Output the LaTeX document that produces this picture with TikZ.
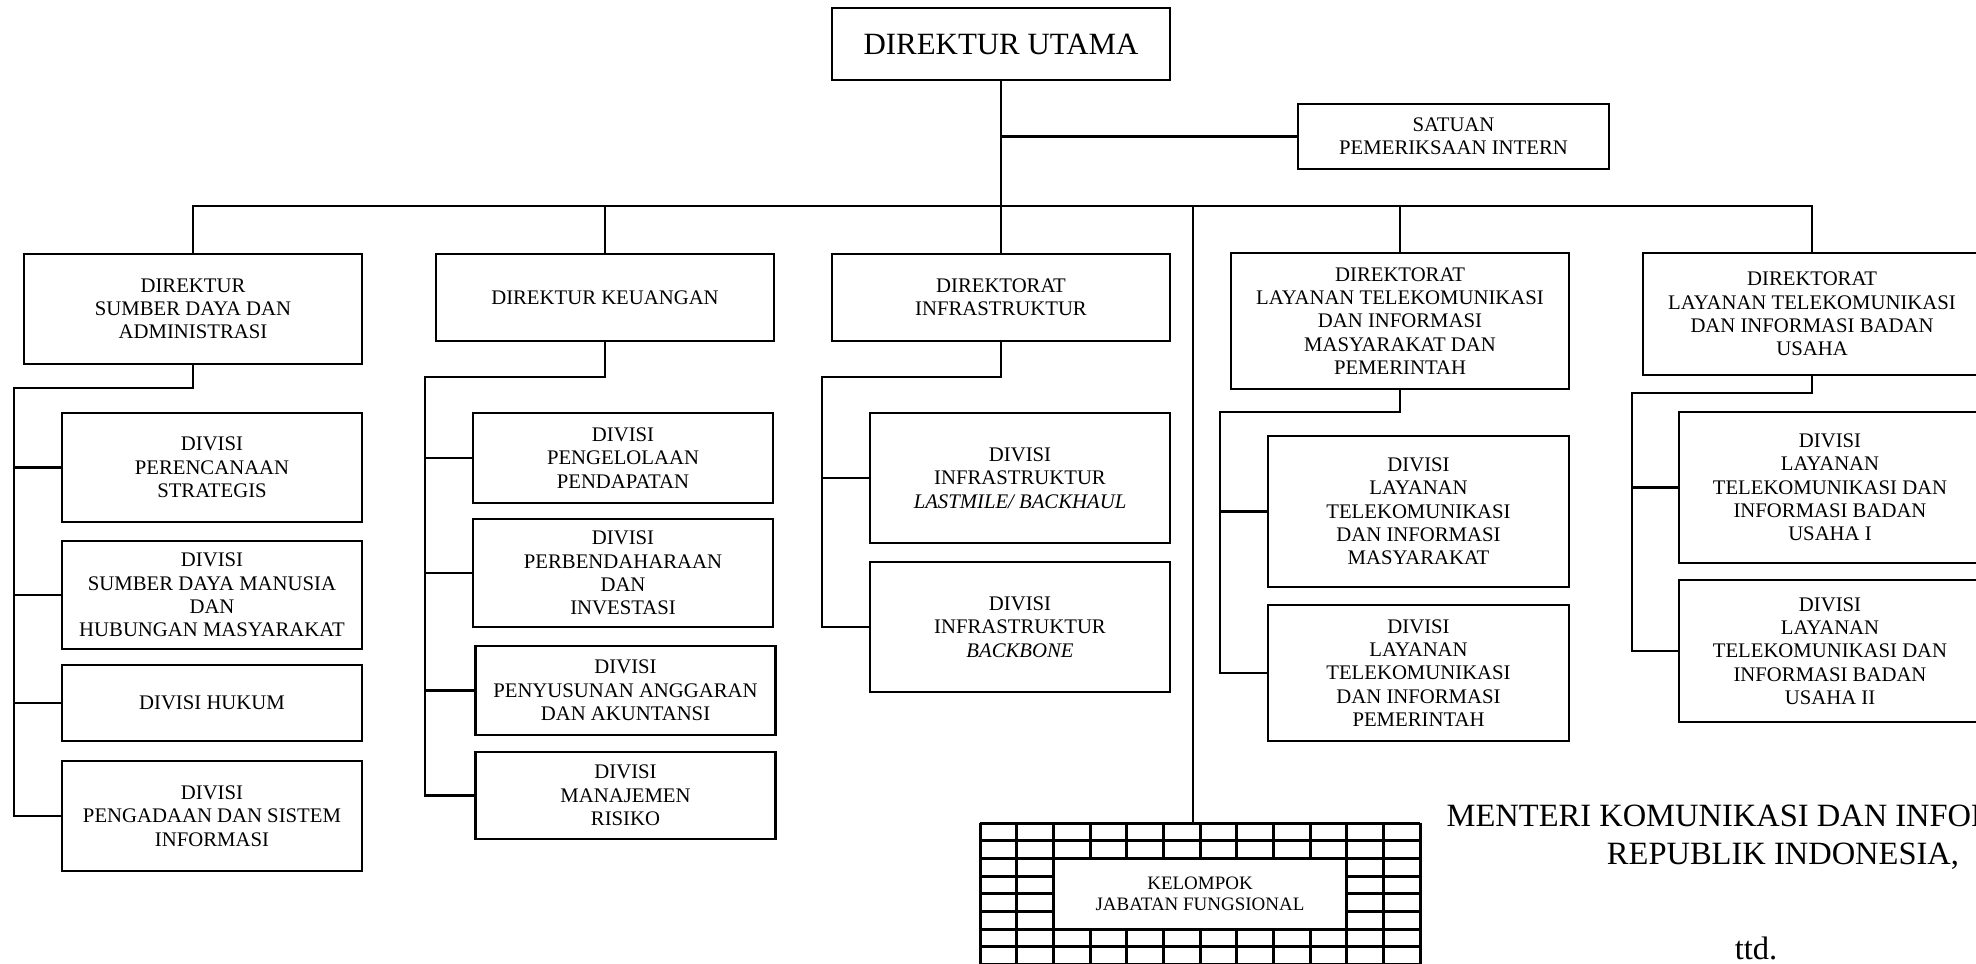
\documentclass[tikz,border=0pt]{standalone}
\usepackage{fontspec}
\setmainfont{Liberation Serif}
\tikzstyle{unit} = [rectangle, draw, line width=1.4pt, align=center, inner sep=2pt,
    font=\fontsize{11.8}{13.25}\selectfont]
\tikzstyle{division} = [unit, minimum width=6cm]
\tikzstyle{link} = [draw, line width=1.4pt]
\tikzstyle{thinlink} = [draw, line width=0.7pt]
\tikzstyle{gridline} = [draw, line width=1.7pt]

\begin{document}
\begin{tikzpicture}[x=0.02cm, y=-0.02cm]
	\useasboundingbox (0,0) rectangle (1976,963);
	\clip (0,0) rectangle (1976,963);

	% pimpinan
	\node [unit, minimum width=6.76cm, minimum height=1.44cm, font=\fontsize{17.6}{20}\selectfont] (dirut) at (1001,44) {DIREKTUR UTAMA};
	\node [unit, minimum width=6.22cm, minimum height=1.3cm] (spi) at (1453.5,136.5) {SATUAN\\PEMERIKSAAN INTERN};

	% direktorat
	\node [unit, minimum width=6.76cm, minimum height=2.2cm] (dirsda) at (193,309) {DIREKTUR\\SUMBER DAYA DAN\\ADMINISTRASI};
	\node [unit, minimum width=6.76cm, minimum height=1.74cm] (dirkeu) at (605,297.5) {DIREKTUR KEUANGAN};
	\node [unit, minimum width=6.76cm, minimum height=1.74cm] (dirinfra) at (1001,297.5) {DIREKTORAT\\INFRASTRUKTUR};
	\node [unit, minimum width=6.76cm, minimum height=2.72cm] (dirltim) at (1400,321) {DIREKTORAT\\LAYANAN TELEKOMUNIKASI\\DAN INFORMASI\\MASYARAKAT DAN\\PEMERINTAH};
	\node [unit, minimum width=6.76cm, minimum height=2.44cm] (dirltibu) at (1812,314) {DIREKTORAT\\LAYANAN TELEKOMUNIKASI\\DAN INFORMASI BADAN\\USAHA};

	% divisi sumber daya dan administrasi
	\node [division, minimum height=2.18cm] (renstra) at (212,467.5) {DIVISI\\PERENCANAAN\\STRATEGIS};
	\node [division, minimum height=2.16cm] (sdm) at (212,595) {DIVISI\\SUMBER DAYA MANUSIA\\DAN\\HUBUNGAN MASYARAKAT};
	\node [division, minimum height=1.52cm] (hukum) at (212,703) {DIVISI HUKUM};
	\node [division, minimum height=2.2cm] (pengadaan) at (212,816) {DIVISI\\PENGADAAN DAN SISTEM\\INFORMASI};

	% divisi keuangan
	\node [division, minimum height=1.8cm] (pendapatan) at (623,458) {DIVISI\\PENGELOLAAN\\PENDAPATAN};
	\node [division, minimum height=2.16cm] (perbend) at (623,573) {DIVISI\\PERBENDAHARAAN\\DAN\\INVESTASI};
	\node [division, minimum height=1.78cm] (anggaran) at (625.5,690.5) {DIVISI\\PENYUSUNAN ANGGARAN\\DAN AKUNTANSI};
	\node [division, minimum height=1.74cm] (risiko) at (625.5,795.5) {DIVISI\\MANAJEMEN\\RISIKO};

	% divisi infrastruktur
	\node [division, minimum height=2.6cm] (lastmile) at (1020,478) {DIVISI\\INFRASTRUKTUR\\\textit{LASTMILE/ BACKHAUL}};
	\node [division, minimum height=2.6cm] (backbone) at (1020,627) {DIVISI\\INFRASTRUKTUR\\\textit{BACKBONE}};

	% divisi layanan masyarakat dan pemerintah
	\node [division, minimum width=6.02cm, minimum height=3.02cm] (dlmas) at (1418.5,511.5) {DIVISI\\LAYANAN\\TELEKOMUNIKASI\\DAN INFORMASI\\MASYARAKAT};
	\node [division, minimum width=6.02cm, minimum height=2.72cm] (dlpem) at (1418.5,673) {DIVISI\\LAYANAN\\TELEKOMUNIKASI\\DAN INFORMASI\\PEMERINTAH};

	% divisi layanan badan usaha
	\node [division, minimum width=6.04cm, minimum height=3.02cm] (usahaa) at (1830,487.5) {DIVISI\\LAYANAN\\TELEKOMUNIKASI DAN\\INFORMASI BADAN\\USAHA I};
	\node [division, minimum width=6.04cm, minimum height=2.84cm] (usahab) at (1830,651) {DIVISI\\LAYANAN\\TELEKOMUNIKASI DAN\\INFORMASI BADAN\\USAHA II};

	% kelompok jabatan fungsional
	\foreach \i in {0,...,12}
		\draw [gridline] (980+36.667*\i,823) -- (980+36.667*\i,990);
	\foreach \j in {0,...,9}
		\draw [gridline] (980,823+17.7*\j) -- (1420,823+17.7*\j);
	\node [unit, fill=white, line width=1.7pt, minimum width=5.87cm, minimum height=1.416cm, font=\fontsize{10.8}{11.6}\selectfont] (jabfung) at (1200,893.8) {KELOMPOK\\JABATAN FUNGSIONAL};

	\node [align=center, inner sep=0pt, anchor=north, font=\fontsize{18.5}{21.6}\selectfont] (menteri) at (1783,805) {MENTERI KOMUNIKASI DAN INFORMATIKA\\REPUBLIK INDONESIA,};
	\node [inner sep=0pt, anchor=base, font=\fontsize{18.5}{21.6}\selectfont] (ttd) at (1756,959) {ttd.};

	% garis
	\coordinate (bus) at (1001,206);
	\coordinate (jftop) at (1193,823);
	\coordinate (sdaspine) at (14,388);
	\coordinate (keuspine) at (425,377);
	\coordinate (infraspine) at (822,377);
	\coordinate (ltimspine) at (1220,412);
	\coordinate (ltibuspine) at (1632,393);

	\path [link] (dirut.south) |- (spi.west);
	\path [link] (dirut.south) -- (bus);
	\path [link] (dirsda.north) |- (bus) -| (dirltibu.north);
	\path [link] (dirkeu.north) |- (bus);
	\path [link] (bus) -- (dirinfra.north);
	\path [link] (dirltim.north) |- (bus);
	\path [thinlink] (jftop) -- (jftop |- bus);

	\path [link] (dirsda.south) |- (sdaspine) |- (pengadaan.west);
	\path [link] (sdaspine) |- (renstra.west);
	\path [link] (sdaspine) |- (sdm.west);
	\path [link] (sdaspine) |- (hukum.west);

	\path [link] (dirkeu.south) |- (keuspine) |- (risiko.west);
	\path [link] (keuspine) |- (pendapatan.west);
	\path [link] (keuspine) |- (perbend.west);
	\path [link] (keuspine) |- (anggaran.west);

	\path [link] (dirinfra.south) |- (infraspine) |- (backbone.west);
	\path [link] (infraspine) |- (lastmile.west);

	\path [link] (dirltim.south) |- (ltimspine) |- (dlpem.west);
	\path [link] (ltimspine) |- (dlmas.west);

	\path [link] (dirltibu.south) |- (ltibuspine) |- (usahab.west);
	\path [link] (ltibuspine) |- (usahaa.west);
\end{tikzpicture}
\end{document}
